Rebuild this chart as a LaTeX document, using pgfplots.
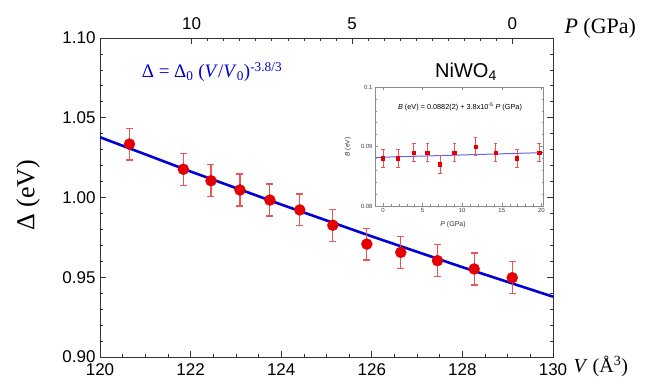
\documentclass[border=0pt]{standalone}
\usepackage{pgfplots}
\pgfplotsset{compat=1.18}
\usepackage{fontspec}
\setmainfont{Liberation Sans}
\newfontfamily\serif{Liberation Serif}
\definecolor{myred}{RGB}{228,0,0}
\definecolor{myblue}{RGB}{0,0,215}
\definecolor{errred}{RGB}{235,85,85}
\definecolor{insetblue}{RGB}{100,100,230}
\begin{document}
\begin{tikzpicture}[x=1pt,y=1pt]
\useasboundingbox (-100,-22) rectangle (551,357);
% main axis
\begin{axis}[
  scale only axis, width=453pt, height=319pt,
  xmin=120, xmax=130, ymin=0.90, ymax=1.10,
  xtick={120,122,...,130}, minor x tick num=3,
  ytick={0.90,0.95,1.00,1.05,1.10}, minor y tick num=4,
  xtick pos=left, ytick pos=both, yticklabel pos=left,
  tick align=inside, major tick length=6pt, minor tick length=3pt,
  tick style={black!80, line width=0.7pt},
  axis line style={black!80, line width=0.8pt},
  y tick label style={/pgf/number format/.cd, fixed, fixed zerofill, precision=2},
  x tick label style={/pgf/number format/.cd, fixed, precision=0, 1000 sep={}},
  ticklabel style={font=\fontsize{17}{17}\selectfont},
  /pgf/number format/assume math mode=true,
  xticklabel shift=3pt, yticklabel shift=1pt,
  clip=true,
]
\addplot[myblue, line width=2.6pt] coordinates {
  (120,1.0378) (122,1.0163) (124,0.9956) (126,0.9756) (128,0.9563) (130,0.9378)
};
\addplot[only marks, mark=*, mark size=5.5pt, color=myred,
  error bars/.cd, y dir=both, y fixed=0.0100,
  error bar style={errred, line width=1.2pt},
  error mark options={rotate=90, errred, mark size=3.5pt, line width=1.2pt}]
coordinates {
  (120.65,1.0335) (121.84,1.0177) (122.45,1.0105) (123.09,1.0047)
  (123.75,0.9984) (124.41,0.9922) (125.14,0.9826) (125.89,0.9708)
  (126.64,0.9656) (127.45,0.9604) (128.26,0.9552) (129.10,0.9497)
};
\end{axis}
% top pressure axis
\begin{axis}[
  scale only axis, width=453pt, height=319pt,
  x dir=reverse, xmin=-1.27, xmax=12.86, ymin=0, ymax=1,
  axis x line*=top, axis y line=none,
  xtick={0,5,10}, minor x tick num=9,
  tick align=inside, major tick length=6pt, minor tick length=3pt,
  tick style={black!80, line width=0.7pt},
  axis line style={black!80, line width=0.8pt},
  ticklabel style={font=\fontsize{17}{17}\selectfont},
  /pgf/number format/assume math mode=true,
  xticklabel shift=5pt,
]
\end{axis}
% inset
\begin{axis}[
  at={(275pt,151pt)}, anchor=south west,
  scale only axis, width=168pt, height=119pt,
  xmin=-1, xmax=20.2, ymin=0.08, ymax=0.1,
  xtick={0,5,...,20}, ytick={0.08,0.09,0.1}, yticklabels={0.08,0.09,0.1},
  minor x tick num=4, minor y tick num=4,
  tick align=inside, major tick length=3pt, minor tick length=1.5pt,
  axis line style={black!45, line width=0.5pt},
  tick style={black!45, line width=0.4pt},
  ticklabel style={font=\fontsize{6}{6}\selectfont, text=black!75},
  /pgf/number format/assume math mode=true,
  xticklabel shift=-1pt, yticklabel shift=-1pt,
]
\addplot[insetblue, line width=1pt] coordinates {(-1,0.08816) (20.2,0.08897)};
\addplot[only marks, mark=square*, mark size=1.7pt, color=myred,
  error bars/.cd, y dir=both, y fixed=0.0015,
  error bar style={errred, line width=0.7pt},
  error mark options={rotate=90, errred, mark size=1.7pt, line width=0.7pt}]
coordinates {
  (0,0.088) (1.9,0.088) (3.9,0.089) (5.6,0.089) (7.2,0.087)
  (9.0,0.089) (11.7,0.090) (14.2,0.089) (16.9,0.088) (19.7,0.089)
};
\end{axis}
% texts
\node[rotate=90, font=\serif\fontsize{26}{26}\selectfont] at (-72,162) {Δ (eV)};
\node[anchor=base west, font=\serif\fontsize{22}{22}\selectfont] at (461,323) {\textit{P} (GPa)};
\node[anchor=base west, font=\serif\fontsize{20}{20}\selectfont] at (470,-16) {\textit{V} (Å\textsuperscript{3})};
\node[myblue, font=\serif\fontsize{19}{19}\selectfont] at (112,285) {Δ = Δ\textsubscript{0} (\textit{V}/\textit{V}\textsubscript{0})\textsuperscript{-3.8/3}};
\node[font=\fontsize{20}{20}\selectfont] at (366,285) {NiWO\textsubscript{4}};
\node[font=\fontsize{7.3}{7.3}\selectfont] at (360,250) {\textit{B} (eV) = 0.0882(2) + 3.8x10\textsuperscript{-5} \textit{P} (GPa)};
\node[rotate=90, font=\fontsize{6.5}{6.5}\selectfont, text=black!80] at (248,210) {\textit{B} (eV)};
\node[font=\fontsize{7}{7}\selectfont, text=black!80] at (353,132) {\textit{P} (GPa)};
\end{tikzpicture}
\end{document}
